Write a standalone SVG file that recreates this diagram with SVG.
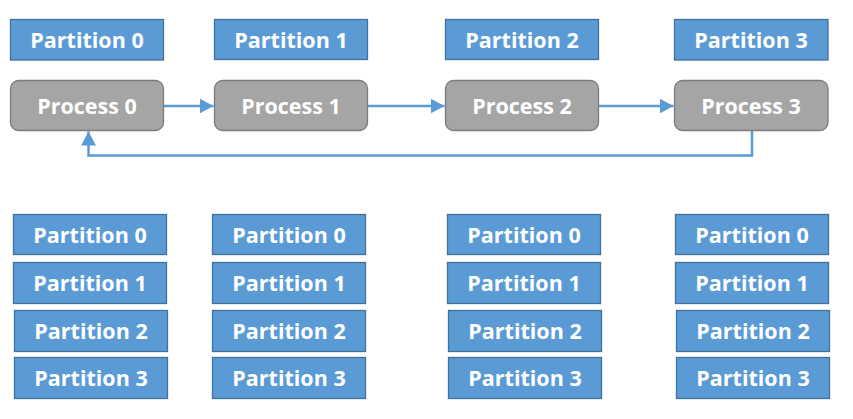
<svg xmlns="http://www.w3.org/2000/svg" width="853" height="419" viewBox="0 0 853 419">
<style>
.part rect{fill:#5B9BD5;stroke:#41719C;stroke-width:1.3}
.proc rect{fill:#A5A5A5;stroke:#7C7C7C;stroke-width:1.3}
text{font-family:"Open Sans","Liberation Sans",sans-serif;font-weight:700;font-size:21.5px;fill:#fff;text-anchor:middle}
.conn path{fill:none;stroke:#5B9BD5;stroke-width:2.5}
</style>
<defs>
<marker id="ah" markerUnits="userSpaceOnUse" markerWidth="15" markerHeight="16" refX="14" refY="7.5" orient="auto">
<path d="M0,0 L14,7.5 L0,15 Z" fill="#5B9BD5"/>
</marker>
</defs>
<rect width="853" height="419" fill="#fff"/>
<g id="p0-top" class="part"><rect x="10.5" y="19.5" width="153" height="40.5"/><text x="87" y="47.5">Partition 0</text></g>
<g id="p1-top" class="part"><rect x="214.5" y="19.5" width="153" height="40"/><text x="291" y="47.5">Partition 1</text></g>
<g id="p2-top" class="part"><rect x="445.5" y="19.5" width="153" height="40"/><text x="522" y="47.5">Partition 2</text></g>
<g id="p3-top" class="part"><rect x="674.5" y="19.5" width="153.5" height="40.5"/><text x="751" y="47.5">Partition 3</text></g>

<g id="proc0" class="proc"><rect x="10.5" y="80.5" width="153" height="50" rx="8"/><text x="87" y="113.5">Process 0</text></g>
<g id="proc1" class="proc"><rect x="214.5" y="80.5" width="153" height="50" rx="8"/><text x="291" y="113.5">Process 1</text></g>
<g id="proc2" class="proc"><rect x="445.5" y="80.5" width="153" height="50" rx="8"/><text x="522" y="113.5">Process 2</text></g>
<g id="proc3" class="proc"><rect x="674.5" y="80.5" width="153.5" height="50" rx="8"/><text x="751" y="113.5">Process 3</text></g>

<g id="connectors" class="conn">
<path d="M164,106 L213.5,106" marker-end="url(#ah)"/>
<path d="M368,106 L444.5,106" marker-end="url(#ah)"/>
<path d="M599,106 L673.5,106" marker-end="url(#ah)"/>
<path d="M752,131 L752,155.5 L88.5,155.5 L88.5,131.5" marker-end="url(#ah)"/>
</g>

<g id="c0-p0" class="part"><rect x="13.5" y="214.5" width="153" height="40"/><text x="90" y="242.5">Partition 0</text></g>
<g id="c0-p1" class="part"><rect x="13.5" y="262.5" width="153" height="41"/><text x="90" y="290.5">Partition 1</text></g>
<g id="c0-p2" class="part"><rect x="14.5" y="310.5" width="153" height="41"/><text x="91" y="338.5">Partition 2</text></g>
<g id="c0-p3" class="part"><rect x="14.5" y="357.5" width="153" height="41"/><text x="91" y="386">Partition 3</text></g>

<g id="c1-p0" class="part"><rect x="212.5" y="214.5" width="153" height="40"/><text x="289" y="242.5">Partition 0</text></g>
<g id="c1-p1" class="part"><rect x="212.5" y="262.5" width="153" height="41"/><text x="289" y="290.5">Partition 1</text></g>
<g id="c1-p2" class="part"><rect x="212.5" y="310.5" width="153" height="41"/><text x="289" y="338.5">Partition 2</text></g>
<g id="c1-p3" class="part"><rect x="212.5" y="357.5" width="153" height="41"/><text x="289" y="386">Partition 3</text></g>

<g id="c2-p0" class="part"><rect x="447.5" y="214.5" width="153" height="40"/><text x="524" y="242.5">Partition 0</text></g>
<g id="c2-p1" class="part"><rect x="447.5" y="262.5" width="153" height="41"/><text x="524" y="290.5">Partition 1</text></g>
<g id="c2-p2" class="part"><rect x="448.5" y="310.5" width="153" height="41"/><text x="525" y="338.5">Partition 2</text></g>
<g id="c2-p3" class="part"><rect x="448.5" y="357.5" width="153" height="41"/><text x="525" y="386">Partition 3</text></g>

<g id="c3-p0" class="part"><rect x="675.5" y="214.5" width="153" height="40"/><text x="752" y="242.5">Partition 0</text></g>
<g id="c3-p1" class="part"><rect x="675.5" y="262.5" width="153" height="41"/><text x="752" y="290.5">Partition 1</text></g>
<g id="c3-p2" class="part"><rect x="676.5" y="310.5" width="153" height="41"/><text x="753" y="338.5">Partition 2</text></g>
<g id="c3-p3" class="part"><rect x="676.5" y="357.5" width="153" height="41"/><text x="753" y="386">Partition 3</text></g>
</svg>
